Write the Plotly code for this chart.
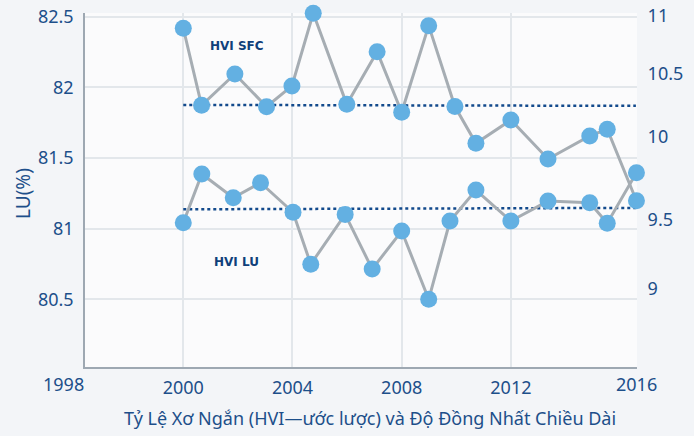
import plotly.graph_objects as go

# ---- data ----
sfc_years = [2000.00, 2000.67, 2001.89, 2003.05, 2003.98, 2004.76, 2005.99, 2007.10,
             2008.00, 2008.99, 2009.95, 2010.72, 2012.00, 2013.36, 2014.89, 2015.53, 2016.60]
sfc_values = [10.910, 10.344, 10.574, 10.334, 10.486, 11.020, 10.351, 10.738,
              10.293, 10.929, 10.335, 10.065, 10.236, 9.950, 10.119, 10.168, 9.643]

lu_years = [2000.00, 2000.68, 2001.83, 2002.83, 2004.02, 2004.67, 2005.93, 2006.92,
            2008.00, 2008.99, 2009.77, 2010.72, 2012.00, 2013.36, 2014.89, 2015.53, 2016.60]
lu_values = [81.042, 81.387, 81.219, 81.325, 81.116, 80.748, 81.101, 80.714,
             80.983, 80.500, 81.054, 81.273, 81.054, 81.195, 81.183, 81.038, 81.396]

sfc_ref_x = [2000.0, 2016.58]
sfc_ref_y = [10.347, 10.340]
lu_ref_x = [2000.0, 2016.58]
lu_ref_y = [81.137, 81.147]

x_tick_vals = [2000, 2004, 2008, 2012]
x_tick_text = ["2000", "2004", "2008", "2012"]
x_edge_labels = ["1998", "2016"]
y_left_ticks = [80.5, 81, 81.5, 82, 82.5]
y_right_tickvals = [9.0, 9.502, 10.113, 10.574, 11.0]
y_right_ticktext = ["9", "9.5", "10", "10.5", "11"]

x_title = "Tỷ Lệ Xơ Ngắn (HVI—ước lược) và Độ Đồng Nhất Chiều Dài"
y_title = "LU(%)"

NAVY = "#1d4f8a"
DARK = "#0f3f7a"
MARK = "#63b0e2"
LINE = "#a6adb3"
FONT = "Noto Sans"

fig = go.Figure()

fig.add_trace(go.Scatter(x=sfc_ref_x, y=sfc_ref_y, yaxis="y2", mode="lines",
                         line=dict(color="#134a8c", width=2.5, dash="dot"),
                         hoverinfo="skip", showlegend=False))
fig.add_trace(go.Scatter(x=lu_ref_x, y=lu_ref_y, mode="lines",
                         line=dict(color="#134a8c", width=2.5, dash="dot"),
                         hoverinfo="skip", showlegend=False))

fig.add_trace(go.Scatter(x=sfc_years, y=sfc_values, yaxis="y2", mode="lines+markers",
                         line=dict(color=LINE, width=3),
                         marker=dict(color=MARK, size=17, line=dict(width=0)),
                         cliponaxis=False, showlegend=False, name="HVI SFC"))
fig.add_trace(go.Scatter(x=lu_years, y=lu_values, mode="lines+markers",
                         line=dict(color=LINE, width=3),
                         marker=dict(color=MARK, size=17, line=dict(width=0)),
                         cliponaxis=False, showlegend=False, name="HVI LU"))

L, R, T, B = 85, 57, 13, 69
W, H = 694, 436
pw, ph = W - L - R, H - T - B

def px(xp):
    return (xp - L) / pw

def py(yp):
    return (H - B - yp) / ph

annotations = [
    dict(text=x_edge_labels[0], x=px(63), y=py(384), xref="paper", yref="paper",
         showarrow=False, xanchor="center", yanchor="middle",
         font=dict(family=FONT, size=18, color=NAVY)),
    dict(text=x_edge_labels[1], x=px(636.7), y=py(384), xref="paper", yref="paper",
         showarrow=False, xanchor="center", yanchor="middle",
         font=dict(family=FONT, size=18, color=NAVY)),
    dict(text=x_title, x=px(370), y=py(418), xref="paper", yref="paper",
         showarrow=False, xanchor="center", yanchor="middle",
         font=dict(family=FONT, size=18, color=NAVY)),
    dict(text=y_title, x=px(23), y=py(194), xref="paper", yref="paper",
         showarrow=False, xanchor="center", yanchor="middle", textangle=-90,
         font=dict(family=FONT, size=19, color=NAVY)),
    dict(text="<b>HVI SFC</b>", x=px(237), y=py(46), xref="paper", yref="paper",
         showarrow=False, xanchor="center", yanchor="middle",
         font=dict(family="DejaVu Sans", size=12, color=DARK)),
    dict(text="<b>HVI LU</b>", x=px(236), y=py(262), xref="paper", yref="paper",
         showarrow=False, xanchor="center", yanchor="middle",
         font=dict(family="DejaVu Sans", size=12, color=DARK)),
]

fig.update_layout(
    width=W, height=H,
    margin=dict(l=L, r=R, t=T, b=B, pad=0, autoexpand=False),
    paper_bgcolor="#f3f5f8",
    plot_bgcolor="#fbfbfc",
    font=dict(family=FONT, size=18, color=NAVY),
    xaxis=dict(range=[1996.40, 2016.62], tickvals=x_tick_vals, ticktext=x_tick_text,
               showgrid=True, gridcolor="#e3e7eb", gridwidth=1.5,
               showline=True, linecolor="#9ea8b2", linewidth=1.5,
               zeroline=False, ticks="outside", ticklen=4, tickcolor="rgba(0,0,0,0)",
               automargin=False,
               tickfont=dict(family=FONT, size=18, color=NAVY)),
    yaxis=dict(range=[80.021, 82.526], tickvals=y_left_ticks,
               showgrid=True, gridcolor="#e3e7eb", gridwidth=1.5,
               showline=True, linecolor="#9ea8b2", linewidth=1.5,
               zeroline=False, ticks="outside", ticklen=6, tickcolor="rgba(0,0,0,0)",
               automargin=False,
               tickfont=dict(family=FONT, size=18, color=NAVY)),
    yaxis2=dict(range=[8.422, 11.022], overlaying="y", side="right",
                tickvals=y_right_tickvals, ticktext=y_right_ticktext,
                showgrid=False, showline=False, zeroline=False,
                ticks="outside", ticklen=6, tickcolor="rgba(0,0,0,0)",
                automargin=False,
                tickfont=dict(family=FONT, size=18, color=NAVY)),
    annotations=annotations,
)

fig.write_html(
    "out.html",
    config={"displayModeBar": False},
    post_script="document.body.style.margin='0px';document.body.style.padding='0px';"
                "document.body.style.background='#f3f5f8';",
)
